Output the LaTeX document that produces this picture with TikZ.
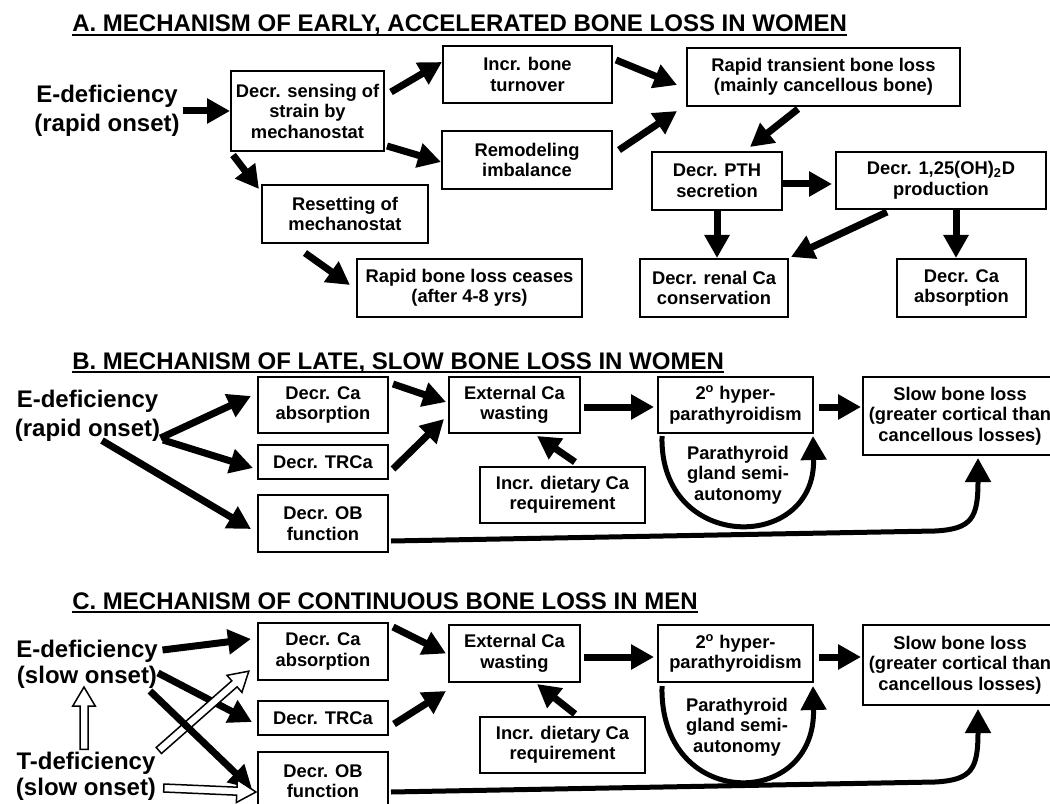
\documentclass[tikz,border=0pt]{standalone}
\usepackage{fontspec}
\setmainfont{Liberation Sans}
\usetikzlibrary{positioning, arrows.meta, calc}

\newcommand{\hollowarrow}[2]{%
  \path[hollow] let \p1=(#1), \p2=(#2),
      \n1={atan2(\y2-\y1,\x2-\x1)}, \n2={veclen(\x2-\x1,\y2-\y1)} in
    [shift={(\p1)}, rotate=\n1]
    (0pt,2.4pt) -- ({(\n2-11.5)*1pt},2.4pt) -- ({(\n2-11.5)*1pt},6.8pt) -- ({\n2*1pt},0pt)
    -- ({(\n2-11.5)*1pt},-6.8pt) -- ({(\n2-11.5)*1pt},-2.4pt) -- (0pt,-2.4pt) -- cycle;
}

\begin{document}
\begin{tikzpicture}[
    x=0.6pt, y=-0.6pt,
    box/.style 2 args={draw, line width=1.2pt, align=center, inner sep=0pt,
      minimum width=#1, minimum height=#2, font=\fontsize{11}{12.3}\selectfont\bfseries},
    lbl/.style={align=center, inner sep=0pt, font=\fontsize{11}{12.3}\selectfont\bfseries},
    big/.style={align=center, inner sep=1.5pt, font=\fontsize{14.4}{17.4}\selectfont\bfseries},
    bigc/.style={big, font=\fontsize{14.4}{15.6}\selectfont\bfseries},
    ttl/.style={anchor=base west, inner sep=0pt, font=\fontsize{14.4}{17}\selectfont\bfseries},
    uline/.style={line width=1.2pt},
    arr/.style={line width=4.2pt, -{Triangle[length=13.8pt, width=14.4pt]}},
    carr/.style={line width=3pt, -{Triangle[length=14.4pt, width=15pt]}},
    hollow/.style={draw, fill=white, line width=0.9pt, line join=miter}
  ]
  \useasboundingbox (0,0) rectangle (1050,804);
  \clip (0,0) rectangle (1050,804);

  \node[ttl] (titleA) at (72,32) {A. MECHANISM OF EARLY, ACCELERATED BONE LOSS IN WOMEN};
  \draw[uline] ([shift={(0,3)}]titleA.base west) -- ([shift={(0,3)}]titleA.base east);

  \node[big] (edefA) at (107,111) {E-deficiency\\(rapid onset)};
  \node[box={91.8pt}{48pt}] (sensing) at (307.5,111) {Decr. sensing of\\strain by\\mechanostat};
  \node[box={101.4pt}{34.2pt}] (turnover) at (527.5,74.5) {Incr. bone\\turnover};
  \node[box={102pt}{34.8pt}] (imbal) at (527,160) {Remodeling\\imbalance};
  \node[box={99.6pt}{34.8pt}] (reset) at (345,214) {Resetting of\\mechanostat};
  \node[box={135pt}{34.8pt}] (ceases) at (469.5,288) {Rapid bone loss ceases\\(after 4-8 yrs)};
  \node[box={163.8pt}{34.8pt}] (rapid) at (823.5,77) {Rapid transient bone loss\\(mainly cancellous bone)};
  \node[box={78pt}{34.8pt}] (pth) at (717,181) {Decr. PTH\\secretion};
  \node[box={126pt}{34.2pt}] (calcit) at (941,180.5) {Decr. 1,25(OH)\textsubscript{2}D\\production};
  \node[box={88.8pt}{34.8pt}] (renal) at (714,288) {Decr. renal Ca\\conservation};
  \node[box={77.4pt}{34.8pt}] (caabsA) at (961.5,288) {Decr. Ca\\absorption};

  \draw[arr] (edefA.east) -- (sensing.west);
  \draw[arr] ([shift={(6,-19)}]sensing.east) -- ([shift={(0,-12.5)}]turnover.west);
  \draw[arr] ([shift={(2,-6)}]sensing.south east) -- ([shift={(0,2)}]imbal.west);
  \draw[arr] ([shift={(3,3)}]sensing.south west) -- ([shift={(-2,5)}]reset.north west);
  \draw[arr] ([shift={(-40,9)}]reset.south) -- ([shift={(-6,-3)}]ceases.west);
  \draw[arr] ([shift={(3,-14.5)}]turnover.east) -- ([shift={(-9,8)}]rapid.west);
  \draw[arr] ([shift={(6,-10)}]imbal.east) -- ([shift={(-9,4)}]rapid.south west);
  \draw[arr] ([shift={(-25.5,2)}]rapid.south) -- ([shift={(33,-4)}]pth.north);
  \draw[arr] ([shift={(0,3)}]pth.east) -- ([shift={(-3,3.5)}]calcit.west);
  \draw[arr] (pth.south) -- (pth.south |- renal.north);
  \draw[arr] ([shift={(-54,2)}]calcit.south) -- ([shift={(2,-1)}]renal.north east);
  \draw[arr] ([shift={(15,0)}]calcit.south) -- ([shift={(-5.5,0)}]caabsA.north);

  \node[ttl] (titleB) at (72,369) {B. MECHANISM OF LATE, SLOW BONE LOSS IN WOMEN};
  \draw[uline] ([shift={(0,3)}]titleB.base west) -- ([shift={(0,3)}]titleB.base east);

  \node[big] (edefB) at (87.5,416) {E-deficiency\\(rapid onset)};
  \node[box={78pt}{33.6pt}] (caabsB) at (323,405) {Decr. Ca\\absorption};
  \node[box={78pt}{20.4pt}, below=6pt of caabsB] (trcaB) {Decr. TRCa};
  \node[box={78pt}{34.2pt}, below=8.4pt of trcaB] (obB) {Decr. OB\\function};
  \node[box={78.6pt}{33.6pt}] (extB) at (514.5,405) {External Ca\\wasting};
  \node[box={99pt}{33.6pt}] (dietB) at (562.5,495) {Incr. dietary Ca\\requirement};
  \node[box={93pt}{33.6pt}] (hyperB) at (735.5,405) {2\textsuperscript{o} hyper-\\parathyroidism};
  \node[box={116.4pt}{46.8pt}] (slowB) at (960,416) {Slow bone loss\\(greater cortical than\\cancellous losses)};
  \node[lbl] (autoB) at (738,475) {Parathyroid\\gland semi-\\autonomy};

  \draw[arr] ([shift={(-2.5,22)}]edefB.east) -- ([shift={(-6,-9)}]caabsB.west);
  \draw[arr] ([shift={(0,24)}]edefB.east) -- ([shift={(-4,6)}]trcaB.west);
  \draw[arr] ([shift={(14.5,-4)}]edefB.south) -- ([shift={(-6,5.5)}]obB.west);
  \draw[arr] ([shift={(4,8)}]caabsB.north east) -- ([shift={(-2,-3)}]extB.west);
  \draw[arr] ([shift={(4,7)}]trcaB.east) -- ([shift={(-4,-15)}]extB.south west);
  \draw[arr] ([shift={(12.5,-4)}]dietB.north) -- ([shift={(22.5,2)}]extB.south);
  \draw[arr] ([shift={(3,2)}]extB.east) -- ([shift={(-3,2)}]hyperB.west);
  \draw[arr] ([shift={(5,2)}]hyperB.east) -- ([shift={(-1,-9)}]slowB.west);
  \draw[carr] ([shift={(5,2)}]hyperB.south west) .. controls +(-3,117) and +(3,117) .. ([shift={(-1,2)}]hyperB.south east);
  \draw[carr] ([shift={(2,17.5)}]obB.east) -- ([shift={(-25,75)}]slowB.south) .. controls +(37,-2) and +(0,60) .. ([shift={(18,2)}]slowB.south);

  \node[ttl] (titleC) at (72,609) {C. MECHANISM OF CONTINUOUS BONE LOSS IN MEN};
  \draw[uline] ([shift={(0,3)}]titleC.base west) -- ([shift={(0,3)}]titleC.base east);

  \node[bigc] (edefC) at (87,664) {E-deficiency\\(slow onset)};
  \node[bigc] (tdefC) at (86,776.5) {T-deficiency\\(slow onset)};
  \node[box={78pt}{34.2pt}] (caabsC) at (323,651.5) {Decr. Ca\\absorption};
  \node[box={78pt}{20.4pt}, below=11.4pt of caabsC] (trcaC) {Decr. TRCa};
  \node[box={78pt}{34.8pt}, below=9pt of trcaC] (obC) {Decr. OB\\function};
  \node[box={78.6pt}{34.2pt}] (extC) at (514.5,653.5) {External Ca\\wasting};
  \node[box={99pt}{33.6pt}] (dietC) at (562.5,745) {Incr. dietary Ca\\requirement};
  \node[box={93pt}{34.2pt}] (hyperC) at (735.5,653.5) {2\textsuperscript{o} hyper-\\parathyroidism};
  \node[box={116.4pt}{48pt}] (slowC) at (960,665) {Slow bone loss\\(greater cortical than\\cancellous losses)};
  \node[lbl] (autoC) at (737,727) {Parathyroid\\gland semi-\\autonomy};

  \draw[arr] ([shift={(2,-14)}]edefC.east) -- ([shift={(-6,-12.5)}]caabsC.west);
  \draw[arr] ([shift={(-2.5,9)}]edefC.east) -- ([shift={(-5,4)}]trcaC.west);
  \hollowarrow{[shift={(0,1)}]tdefC.north east}{[shift={(-8,-10)}]caabsC.south west}
  \draw[arr] ([shift={(63,0)}]edefC.south) -- ([shift={(-5,8)}]obC.west);
  \hollowarrow{[shift={(-2,0)}]tdefC.north}{[shift={(-3,-4)}]edefC.south}
  \hollowarrow{[shift={(5,11.5)}]tdefC.east}{[shift={(-1,11)}]obC.west}
  \draw[arr] ([shift={(4,5)}]caabsC.north east) -- ([shift={(-2,0)}]extC.west);
  \draw[arr] ([shift={(5,6)}]trcaC.east) -- ([shift={(-2,8)}]extC.south west);
  \draw[arr] ([shift={(12.5,-2)}]dietC.north) -- ([shift={(22.5,1)}]extC.south);
  \draw[arr] ([shift={(3,3.5)}]extC.east) -- ([shift={(-3,3.5)}]hyperC.west);
  \draw[arr] ([shift={(5,3.5)}]hyperC.east) -- ([shift={(-1,-8)}]slowC.west);
  \draw[carr] ([shift={(5,3)}]hyperC.south west) .. controls +(-3,125) and +(3,125) .. ([shift={(-1,3)}]hyperC.south east);
  \draw[carr] ([shift={(2,11)}]obC.east) -- ([shift={(-25,76)}]slowC.south) .. controls +(37,-2) and +(0,60) .. ([shift={(18,3)}]slowC.south);
\end{tikzpicture}
\end{document}
